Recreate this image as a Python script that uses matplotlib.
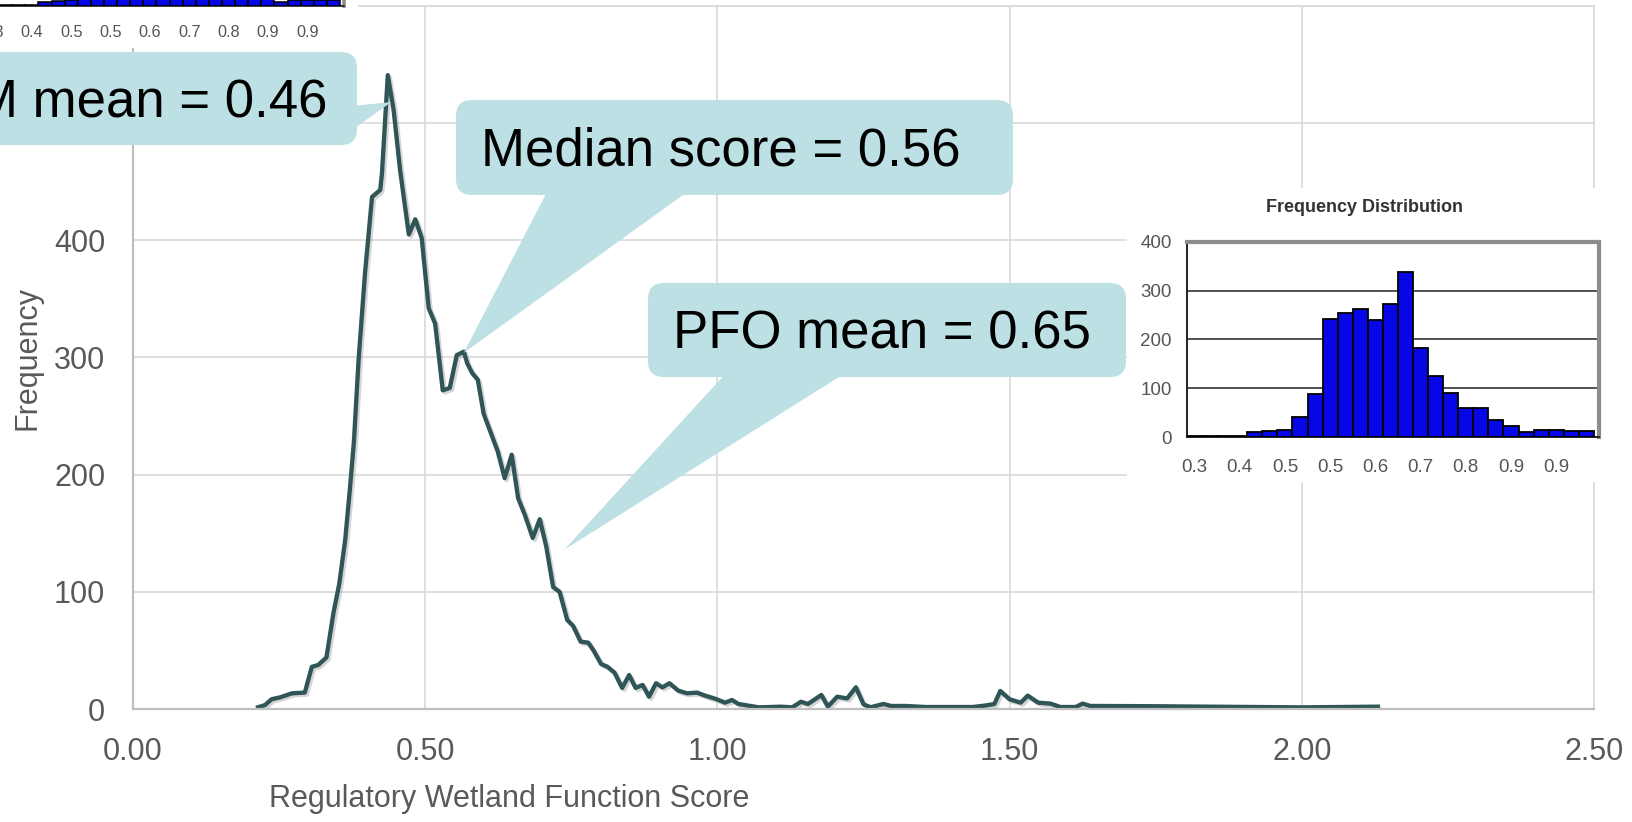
import matplotlib
matplotlib.use('Agg')
import matplotlib.pyplot as plt
from matplotlib.patches import FancyBboxPatch, Polygon, Rectangle
import matplotlib.patheffects as pe
from matplotlib.ticker import FixedLocator, FormatStrFormatter

plt.rcParams['font.family'] = ['Liberation Sans', 'DejaVu Sans']

# ---------------- data ----------------
score = [0.214, 0.226, 0.237, 0.252, 0.272, 0.294, 0.306, 0.317, 0.331, 0.343,
         0.353, 0.363, 0.371, 0.378, 0.386, 0.397, 0.409, 0.423, 0.426, 0.436,
         0.446, 0.457, 0.472, 0.483, 0.494, 0.506, 0.517, 0.530, 0.542, 0.554,
         0.566, 0.572, 0.580, 0.590, 0.600, 0.612, 0.624, 0.636, 0.648, 0.659,
         0.671, 0.684, 0.696, 0.707, 0.719, 0.730, 0.743, 0.753, 0.766, 0.779,
         0.788, 0.801, 0.812, 0.824, 0.837, 0.849, 0.860, 0.872, 0.883, 0.895,
         0.906, 0.918, 0.933, 0.948, 0.965, 0.979, 0.998, 1.013, 1.025, 1.036,
         1.071, 1.109, 1.128, 1.143, 1.155, 1.178, 1.189, 1.205, 1.222, 1.237,
         1.250, 1.262, 1.284, 1.297, 1.322, 1.356, 1.437, 1.459, 1.474, 1.484,
         1.500, 1.519, 1.531, 1.549, 1.570, 1.587, 1.613, 1.625, 1.638, 1.740,
         2.000, 2.130]
frequency = [1.5, 3.4, 8.3, 10, 13.4, 14, 36, 37.6, 44, 82,
             107, 144, 187, 228, 298, 372, 437, 443, 457, 541,
             511, 460, 405, 418, 402, 342, 329, 272, 274, 302,
             305, 295, 287, 281, 252, 236, 220, 197, 217, 180,
             165, 146, 162, 139, 104, 100, 76, 71, 57.5, 56.6,
             50, 38.4, 36, 31, 18, 29, 18, 20.5, 10.5, 22,
             18.5, 22, 15.7, 13.4, 14, 11.4, 8.5, 5.4, 7.7, 4.3,
             1.4, 2, 1.4, 6.2, 4.3, 12, 2, 10.5, 9, 18.5,
             4, 1.5, 4.3, 2.6, 2.6, 1.7, 1.7, 3, 4.3, 15.4,
             8.3, 5.4, 11.4, 5.4, 4.6, 1.7, 1.7, 4.6, 2.6, 2.4,
             1.4, 2.0]

x_ticks = [0.0, 0.5, 1.0, 1.5, 2.0, 2.5]
y_ticks = [0, 100, 200, 300, 400]
y_extra_grid = [500, 600]

hist_counts = [3, 3, 3, 2, 10, 12, 15, 40, 88, 243, 255, 262, 240, 272,
               338, 182, 125, 90, 60, 60, 35, 22, 10, 15, 15, 13, 13]
hist_tick_labels = ['0.3', '0.4', '0.5', '0.5', '0.6', '0.7', '0.8', '0.9', '0.9']
hist_y_ticks = [0, 100, 200, 300, 400]

callout_texts = ['M mean = 0.46', 'Median score = 0.56', 'PFO mean = 0.65']
callout_target_x = [0.442, 0.566, 0.738]
callout_target_y = [518, 304, 136]

# ---------------- figure ----------------
W, H = 1632, 822
fig = plt.figure(figsize=(W / 100, H / 100), dpi=100)
fig.patch.set_facecolor('white')


def rect_px(l, t, r, b):
    return [l / W, (H - b) / H, (r - l) / W, (b - t) / H]


GRID = '#D9D9D9'
TXT = '#595959'
LINE = '#2F5557'
CALL = '#BCE0E3'

ax = fig.add_axes(rect_px(133, 6, 1594, 709), zorder=0)
ax.plot(score, frequency, color=LINE, lw=3.1,
        path_effects=[pe.SimpleLineShadow(offset=(1.5, -1.5), shadow_color='#888888', alpha=0.35),
                      pe.Normal()])
ax.set_xlim(0, 2.5)
ax.set_ylim(0, 600)
ax.set_xticks(x_ticks)
ax.xaxis.set_major_formatter(FormatStrFormatter('%.2f'))
ax.set_yticks(y_ticks)
ax.yaxis.set_minor_locator(FixedLocator(y_extra_grid))
ax.grid(True, which='both', color=GRID, lw=1.2)
ax.set_axisbelow(True)
ax.tick_params(which='both', length=0, labelsize=22, labelcolor=TXT, pad=20)
for s in ['left', 'bottom']:
    ax.spines[s].set_color('#BFBFBF')
    ax.spines[s].set_linewidth(1.6)
for s in ['top', 'right']:
    ax.spines[s].set_color(GRID)
    ax.spines[s].set_linewidth(1.2)

ax.set_xlabel('Regulatory Wetland Function Score', fontsize=22, color=TXT)
ax.xaxis.set_label_coords((509 - 133) / 1461, (709 - 799) / 703)
ax.xaxis.label.set_verticalalignment('center')
ax.set_ylabel('Frequency', fontsize=22, color=TXT)
ax.yaxis.set_label_coords((28 - 133) / 1461, 0.5)
ax.yaxis.label.set_verticalalignment('center')

# ---------------- overlay (callouts, inset backgrounds) ----------------
ov = fig.add_axes([0, 0, 1, 1], zorder=5)
ov.set_xlim(0, W)
ov.set_ylim(H, 0)
ov.axis('off')
ov.patch.set_alpha(0)


def data_to_px(x, y):
    px, py = ax.transData.transform((x, y))
    return px, H - py


boxes = [(-30, 52, 357, 145), (456, 100, 1013, 195), (648, 283, 1126, 377)]
bases = [((352, 106), (352, 130)), ((548, 190), (690, 190)), ((727, 372), (847, 372))]
text_pos = [(328, 117, 'right'), (481, 166, 'left'), (673, 348, 'left')]

for i in range(3):
    l, t, r, b = boxes[i]
    ov.add_patch(FancyBboxPatch((l, t), r - l, b - t,
                                boxstyle='round,pad=0,rounding_size=16',
                                fc=CALL, ec='none'))
    tip = data_to_px(callout_target_x[i], callout_target_y[i])
    ov.add_patch(Polygon([bases[i][0], tip, bases[i][1]], closed=True, fc=CALL, ec='none'))
    tx, ty, ha = text_pos[i]
    ov.text(tx, ty, callout_texts[i], fontsize=38, color='black', ha=ha, va='baseline')

# white backgrounds behind the pasted histogram pictures
ov.add_patch(Rectangle((1127, 188), W - 1127, 482 - 188, fc='white', ec='none'))
ov.add_patch(Rectangle((0, 0), 358, 48, fc='white', ec='none'))


# ---------------- histogram insets ----------------
def draw_hist(l, t, r, b, scale, show_y, show_title):
    a = fig.add_axes(rect_px(l, t, r, b), zorder=6)
    centers = [i + 0.5 for i in range(len(hist_counts))]
    a.bar(centers, hist_counts, width=1.0, color='#0606E6', edgecolor='black',
          linewidth=1.3 * scale, zorder=3)
    a.set_xlim(0, 27.34)
    a.set_ylim(0, 400)
    a.set_yticks(hist_y_ticks)
    a.set_xticks([centers[3 * k] for k in range(len(hist_tick_labels))])
    a.set_xticklabels(hist_tick_labels)
    a.grid(axis='y', color='#222222', lw=1.1 * scale, zorder=1)
    a.set_axisbelow(True)
    a.tick_params(axis='x', length=0, labelsize=13.5 * scale, labelcolor='#555555', pad=16 * scale)
    a.tick_params(axis='y', length=0, labelsize=13.5 * scale, labelcolor='#555555', pad=11 * scale,
                  labelleft=show_y)
    a.set_facecolor('white')
    for s in ['left', 'bottom']:
        a.spines[s].set_color('#222222')
        a.spines[s].set_linewidth(1.4 * scale)
    for s in ['top', 'right']:
        a.spines[s].set_color('#8C8C8C')
        a.spines[s].set_linewidth(3.0 * scale)
    if show_title:
        a.text((1365 - l) / (r - l), 1 + (t - 207) / (b - t), 'Frequency Distribution',
               transform=a.transAxes, ha='center', va='center', fontsize=13 * scale,
               fontweight='bold', color='#333333')
    return a


draw_hist(1187, 242, 1599, 437, 1.0, True, True)
sc = 0.87
draw_hist(-14, 6 - 195 * sc, -14 + 412 * sc, 6, sc, False, False)

fig.savefig('out.png', dpi=100, facecolor='white')
